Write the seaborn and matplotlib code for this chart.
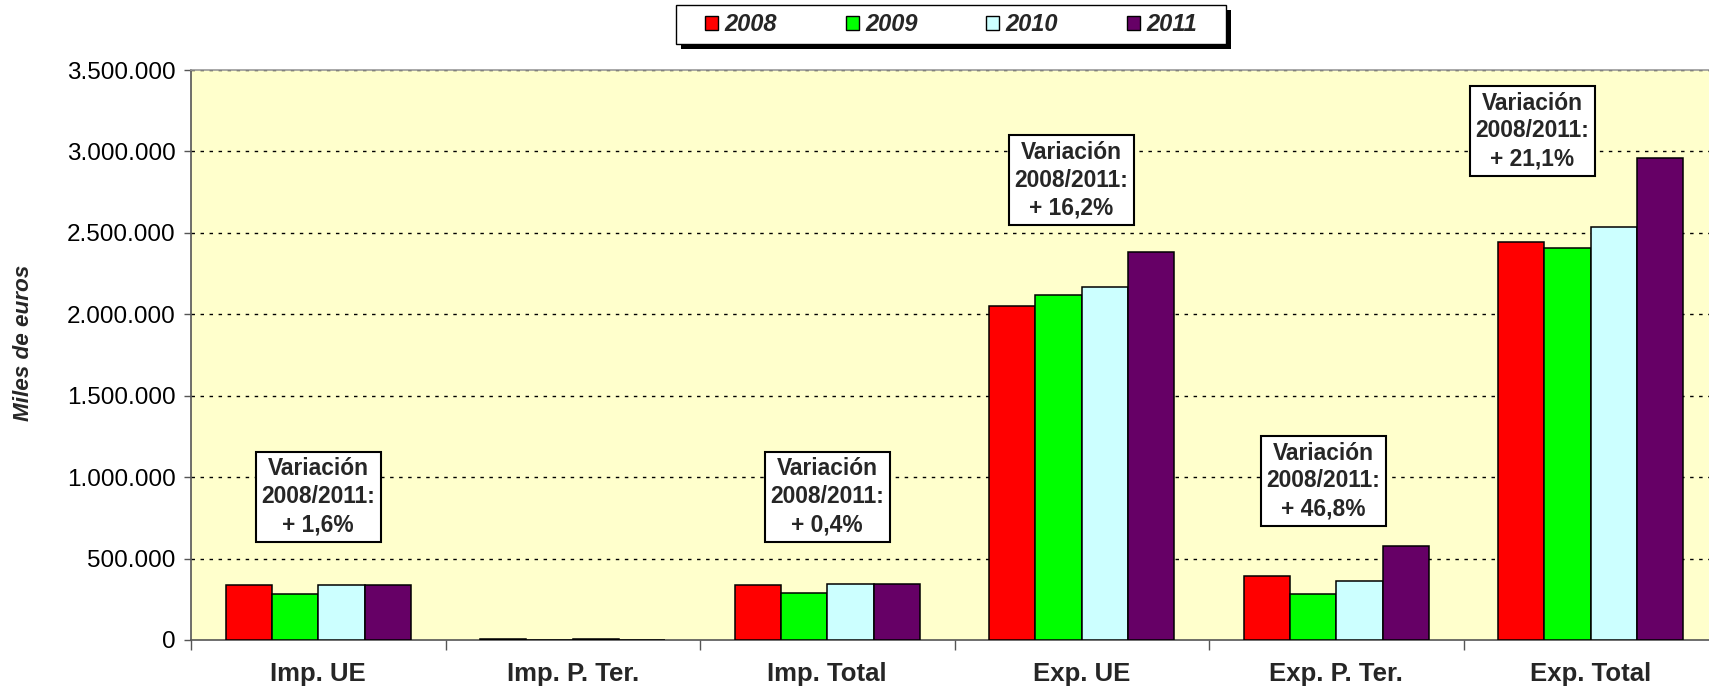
import numpy as np
import pandas as pd
import matplotlib
matplotlib.use("Agg")
import matplotlib.pyplot as plt
from matplotlib.patches import Rectangle
from matplotlib.ticker import FuncFormatter, FixedLocator
import seaborn as sns

# Foreign trade figures (thousands of euros)
categorias = ["Imp. UE", "Imp. P. Ter.", "Imp. Total", "Exp. UE", "Exp. P. Ter.", "Exp. Total"]
anios = ["2008", "2009", "2010", "2011"]

v2008 = [335000, 5000, 340000, 2050000, 395000, 2445000]
v2009 = [283000, 3000, 286000, 2120000, 285000, 2405000]
v2010 = [339000, 3500, 342500, 2170000, 365000, 2535000]
v2011 = [340400, 1000, 341400, 2382000, 580000, 2961000]

colores = ["#FF0000", "#00FF00", "#CCFFFF", "#660066"]

variaciones = ["+ 1,6%", None, "+ 0,4%", "+ 16,2%", "+ 46,8%", "+ 21,1%"]
# label box anchor: (offset from group centre, height in euros)
pos_cajas = [(0.0, 880000), None, (0.0, 880000), (-0.04, 2824000), (-0.05, 977000), (-0.23, 3126000)]

df = pd.DataFrame({
    "categoria": np.repeat(categorias, len(anios)),
    "anio": anios * len(categorias),
    "valor": np.column_stack([v2008, v2009, v2010, v2011]).ravel(),
})

sns.set_theme(style="white")
plt.rcParams["font.family"] = ["Liberation Sans", "DejaVu Sans"]

W, H = 1709, 691
fig = plt.figure(figsize=(W / 100, H / 100), dpi=100)
ax = fig.add_axes([191 / W, 1 - 640 / H, 1527 / W, 570 / H])
ax.set_facecolor("#FFFFCC")

sns.barplot(data=df, x="categoria", y="valor", hue="anio", order=categorias,
            hue_order=anios, palette=colores, saturation=1, width=0.727,
            edgecolor="black", linewidth=1.1, errorbar=None, ax=ax, zorder=3)

ax.set_xlim(-0.5, len(categorias) - 0.5)
ax.set_ylim(0, 3500000)
ax.set_yticks(np.arange(0, 3500001, 500000))
ax.yaxis.set_major_formatter(FuncFormatter(lambda v, p: f"{int(v):,}".replace(",", ".")))
ax.tick_params(axis="y", which="major", left=True, direction="out", length=5,
               width=1, color="#555555", pad=6, labelsize=17.5, labelcolor="black")

# group separators as major ticks, category names as minor labels
ax.xaxis.set_major_locator(FixedLocator(np.arange(-0.5, len(categorias) + 0.5, 1)))
ax.xaxis.set_minor_locator(FixedLocator(np.arange(len(categorias))))
ax.set_xticklabels([], minor=False)
ax.set_xticklabels(categorias, minor=True, fontsize=18.5, fontweight="bold")
ax.tick_params(axis="x", which="major", bottom=True, direction="out", length=7,
               width=1, color="#555555")
ax.tick_params(axis="x", which="minor", bottom=False, pad=12)
ax.set_xlabel("")
ax.set_ylabel("")

for y in np.arange(500000, 3500001, 500000):
    ax.axhline(y, color="black", linewidth=1.0, linestyle=(0, (2.5, 4)), zorder=1)

for side in ["left", "bottom"]:
    ax.spines[side].set_color("#555555")
    ax.spines[side].set_linewidth(1.2)
ax.spines["top"].set_color("#9A9A9A")
ax.spines["top"].set_linewidth(1.2)
ax.spines["right"].set_visible(False)

for i, (txt, pos) in enumerate(zip(variaciones, pos_cajas)):
    if txt is None:
        continue
    dx, y = pos
    ax.text(i + dx, y, f"Variación\n2008/2011:\n{txt}", ha="center", va="center",
            fontsize=16.4, fontweight="bold", linespacing=1.27, zorder=5,
            bbox=dict(boxstyle="square,pad=0.25", facecolor="white",
                      edgecolor="black", linewidth=1.5))

fig.text(24 / W, 0.504, "Miles de euros", rotation=90, ha="center", va="center",
         fontsize=16.2, fontweight="bold", fontstyle="italic")

# legend frame with a solid drop shadow
x0, y0, x1, y1 = 676, 5, 1226, 44
fig.add_artist(Rectangle(((x0 + 5) / W, 1 - (y1 + 5) / H), (x1 - x0) / W, (y1 - y0) / H,
                         transform=fig.transFigure, facecolor="black", edgecolor="none",
                         zorder=1))
fig.add_artist(Rectangle((x0 / W, 1 - y1 / H), (x1 - x0) / W, (y1 - y0) / H,
                         transform=fig.transFigure, facecolor="white", edgecolor="black",
                         linewidth=1.0, zorder=2))

handles, labels = ax.get_legend_handles_labels()
ax.get_legend().remove()
leg = fig.legend(handles, labels, loc="center", bbox_to_anchor=(951 / W, 1 - 24.5 / H),
                 ncol=4, frameon=False, handlelength=0.55, handleheight=0.55,
                 handletextpad=0.28, columnspacing=2.9, borderpad=0.2,
                 prop={"size": 17, "weight": "bold", "style": "italic"})
leg.set_zorder(3)
for h in leg.legend_handles:
    h.set_edgecolor("black")
    h.set_linewidth(1.0)

fig.savefig("out.png", dpi=100)
